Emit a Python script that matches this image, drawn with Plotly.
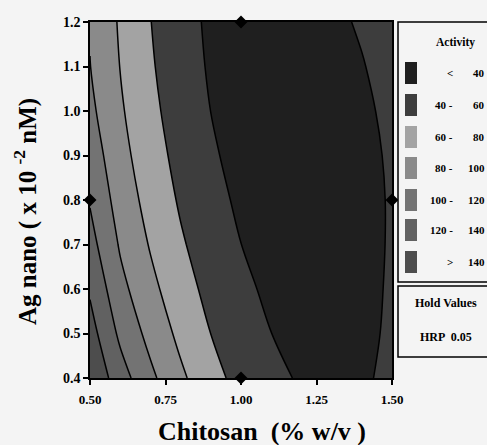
import plotly.graph_objects as go

# ---- data ----
chitosan = [0.5, 0.6, 0.7, 0.8, 0.9, 1.0, 1.1, 1.2, 1.3, 1.4, 1.5]
ag_nano = [0.4, 0.5, 0.6, 0.7, 0.8, 0.9, 1.0, 1.1, 1.2]
activity = [
    [158.0, 128.8, 104.4, 83.7, 66.7, 53.5, 44.0, 38.3, 36.2, 37.9, 43.3],
    [148.0, 116.0, 93.8, 75.1, 59.9, 48.2, 40.1, 35.3, 34.1, 36.3, 42.4],
    [137.5, 105.8, 85.3, 68.1, 54.3, 43.8, 36.6, 32.8, 32.3, 35.2, 42.0],
    [127.0, 97.9, 78.5, 62.4, 49.6, 40.1, 33.7, 30.6, 30.8, 34.3, 41.7],
    [118.5, 91.5, 73.0, 57.7, 45.7, 36.9, 31.3, 28.9, 29.8, 33.8, 41.8],
    [111.0, 86.5, 68.5, 53.9, 42.4, 34.3, 29.4, 27.7, 29.3, 34.2, 42.8],
    [104.5, 82.5, 64.9, 50.7, 39.9, 32.4, 28.2, 27.4, 29.9, 35.8, 45.0],
    [100.4, 79.6, 62.2, 48.4, 38.0, 31.2, 27.8, 27.9, 31.5, 38.6, 49.2],
    [98.7, 77.7, 60.4, 46.8, 36.9, 30.7, 28.2, 29.4, 34.3, 42.9, 55.2],
]
design_x = [0.5, 1.0, 1.5, 1.0]
design_y = [0.8, 1.2, 0.8, 0.4]
band_left = ["<", "40 -", "60 -", "80 -", "100 -", "120 -", ">"]
band_right = ["40", "60", "80", "100", "120", "140", "140"]
band_colors = ["#1f1f1f", "#3d3d3d", "#a3a3a3", "#8a8a8a", "#737373", "#616161", "#4d4d4d"]
x_ticks = [0.5, 0.75, 1.0, 1.25, 1.5]
x_ticktext = ["0.50", "0.75", "1.00", "1.25", "1.50"]
y_ticks = [0.4, 0.5, 0.6, 0.7, 0.8, 0.9, 1.0, 1.1, 1.2]
y_ticktext = ["0.4", "0.5", "0.6", "0.7", "0.8", "0.9", "1.0", "1.1", "1.2"]

# stepped colorscale: 7 bands, centred on k/6
n = len(band_colors)
cs = []
for i, c in enumerate(band_colors):
    lo = 0 if i == 0 else (2 * i - 1) / (2 * (n - 1))
    hi = 1 if i == n - 1 else (2 * i + 1) / (2 * (n - 1))
    cs.append([lo, c])
    cs.append([hi, c])

W, H = 487, 445
ML, MR, MT, MB = 90, 95, 22, 67
PW, PH = W - ML - MR, H - MT - MB


def px(x):
    return (x - ML) / PW


def py(y):
    return (H - MB - y) / PH


BG = "#f4f4f4"
SERIF = "Liberation Serif"

fig = go.Figure()
fig.add_trace(go.Contour(
    x=chitosan, y=ag_nano, z=activity,
    contours=dict(start=40, end=140, size=20, coloring="fill"),
    line=dict(color="black", width=1.5, smoothing=1.0),
    colorscale=cs, showscale=False, hoverinfo="skip",
))
fig.add_trace(go.Scatter(
    x=design_x, y=design_y, mode="markers",
    marker=dict(symbol="diamond", size=10, color="black"),
    cliponaxis=False, showlegend=False, hoverinfo="skip",
))

shapes = []
annotations = []


def note(x, y, text, size, xanchor="center", angle=0):
    annotations.append(dict(xref="paper", yref="paper", x=px(x), y=py(y),
                            xanchor=xanchor, yanchor="middle", textangle=angle,
                            text="<b>%s</b>" % text, showarrow=False,
                            font=dict(family=SERIF, size=size, color="black")))


# legend box
shapes.append(dict(type="rect", xref="paper", yref="paper",
                   x0=px(398), x1=px(492), y0=py(282), y1=py(22),
                   line=dict(color="black", width=1.5), fillcolor=BG, layer="above"))
shapes.append(dict(type="rect", xref="paper", yref="paper",
                   x0=px(398), x1=px(492), y0=py(357), y1=py(286),
                   line=dict(color="black", width=1.5), fillcolor=BG, layer="above"))
note(455, 42, "Activity", 11.5)
row_y = [73, 105, 137, 168, 200, 230, 262]
for i in range(n):
    yc = row_y[i]
    shapes.append(dict(type="rect", xref="paper", yref="paper",
                       x0=px(405), x1=px(417), y0=py(yc + 11), y1=py(yc - 11),
                       line=dict(width=0), fillcolor=band_colors[i], layer="above"))
    note(455, yc, band_left[i], 11, xanchor="right")
    note(487, yc, band_right[i], 11, xanchor="right")
note(446, 303, "Hold Values", 12)
note(446, 337, "HRP  0.05", 12)
# axis titles
note(262, 431, "Chitosan  (% w/v )", 26)
note(25, 212, "Ag nano ( x 10 <sup>-2</sup> nM)", 25, angle=-90)

axis_common = dict(showline=True, linecolor="black", linewidth=1.5, mirror=True,
                   ticks="outside", ticklen=5, tickwidth=1.5, tickcolor="black",
                   showgrid=False, zeroline=False)
fig.update_layout(
    width=W, height=H,
    margin=dict(l=ML, r=MR, t=MT, b=MB),
    paper_bgcolor=BG, plot_bgcolor=BG,
    showlegend=False,
    xaxis=dict(range=[0.5, 1.5], tickvals=x_ticks, ticktext=x_ticktext,
               tickfont=dict(family=SERIF, size=13, color="black", weight="bold"),
               ticklabelstandoff=4, **axis_common),
    yaxis=dict(range=[0.4, 1.2], tickvals=y_ticks, ticktext=y_ticktext,
               tickfont=dict(family=SERIF, size=14, color="black", weight="bold"),
               **axis_common),
    shapes=shapes, annotations=annotations,
)
fig.write_html("out.html")
